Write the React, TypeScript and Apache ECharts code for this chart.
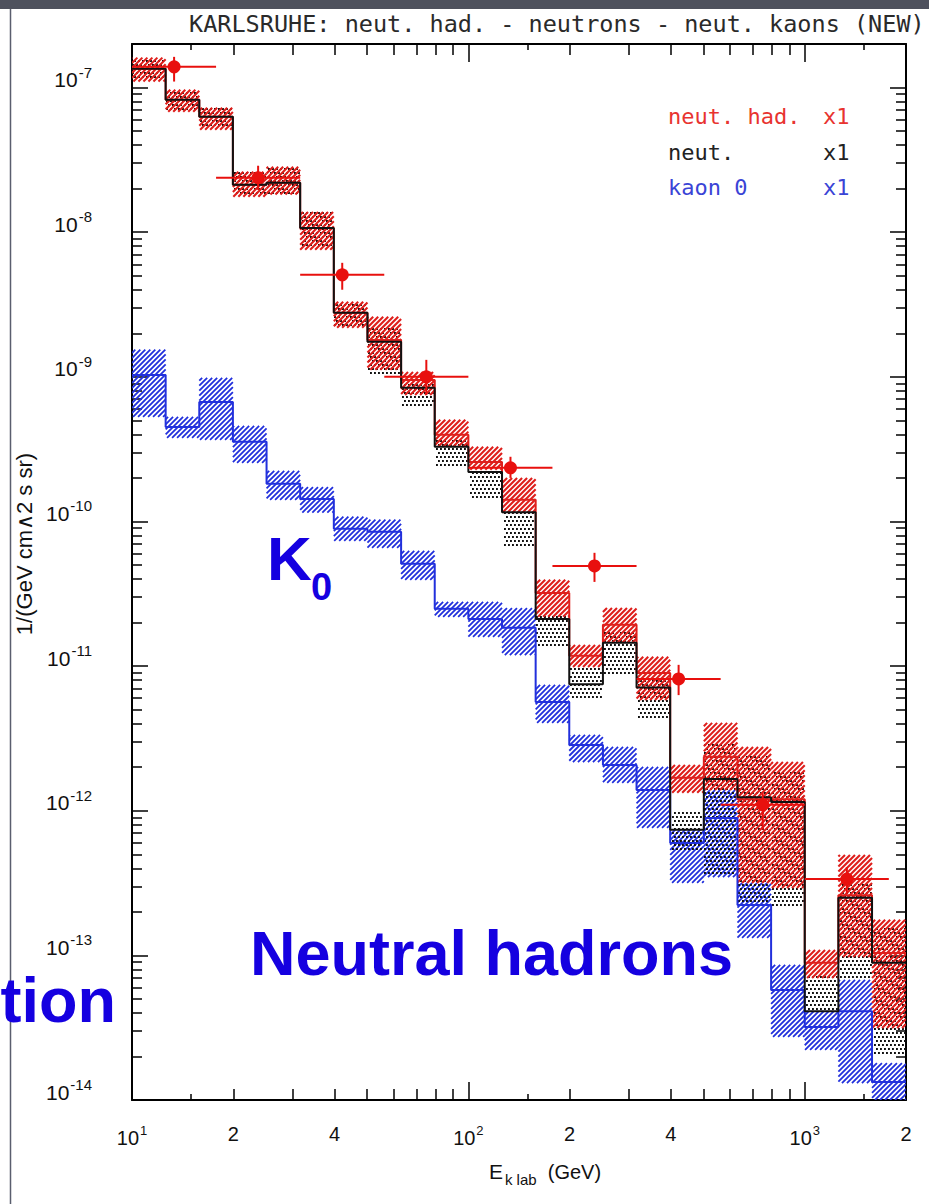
import React, { useEffect, useRef } from "react";
import * as echarts from "echarts";

// ---------- data ----------
const binEdges = [10, 12.59, 15.85, 19.95, 25.12, 31.62, 39.81, 50.12, 63.1, 79.43, 100, 125.9, 158.5, 199.5, 251.2, 316.2, 398.1, 501.2, 631, 794.3, 1000, 1259, 1585, 2000];

const neutHad = [1.35e-7, 8.24e-8, 6.28e-8, 2.13e-8, 2.2e-8, 1.07e-8, 2.77e-9, 1.8e-9, 9.5e-10, 3.97e-10, 2.58e-10, 1.41e-10, 3.2e-11, 1.18e-11, 1.93e-11, 8.97e-12, 1.69e-12, 2.36e-12, 1.2e-12, 1.2e-12, 8.9e-14, 2.6e-13, 1.04e-13];
const neutHadHi = [1.61e-7, 9.66e-8, 7.24e-8, 2.62e-8, 2.83e-8, 1.38e-8, 3.3e-9, 2.6e-9, 1.08e-9, 5.05e-10, 3.28e-10, 2.0e-10, 3.95e-11, 1.4e-11, 2.52e-11, 1.16e-11, 2.07e-12, 4.05e-12, 2.76e-12, 2.17e-12, 1.09e-13, 4.94e-13, 1.76e-13];
const neutHadLo = [1.1e-7, 6.8e-8, 5.1e-8, 1.76e-8, 1.82e-8, 7.55e-9, 2.18e-9, 1.12e-9, 7.5e-10, 3.28e-10, 2.28e-10, 1.15e-10, 2.19e-11, 9.86e-12, 1.45e-11, 5.83e-12, 1.33e-12, 1.39e-12, 3.17e-13, 2.92e-13, 6.98e-14, 9.75e-14, 3.15e-14];

const neut = [1.35e-7, 8.24e-8, 6.28e-8, 2.13e-8, 2.2e-8, 1.07e-8, 2.77e-9, 1.75e-9, 8.4e-10, 3.28e-10, 2.2e-10, 1.16e-10, 2.12e-11, 7.5e-12, 1.45e-11, 7.1e-12, 7.4e-13, 1.66e-12, 1.24e-12, 1.15e-12, 4.1e-14, 2.5e-13, 8.9e-14];
const neutHi = [1.61e-7, 9.66e-8, 7.24e-8, 2.62e-8, 2.83e-8, 1.38e-8, 3.3e-9, 2.29e-9, 9.2e-10, 3.66e-10, 2.28e-10, 1.2e-10, 2.26e-11, 9.86e-12, 1.78e-11, 8.04e-12, 9.8e-13, 2.94e-12, 2.43e-12, 1.91e-12, 7.3e-14, 3.17e-13, 1.62e-13];
const neutLo = [1.1e-7, 6.8e-8, 5.1e-8, 1.76e-8, 1.82e-8, 7.55e-9, 2.18e-9, 1.0e-9, 6.2e-10, 2.28e-10, 1.41e-10, 6.4e-11, 1.34e-11, 5.83e-12, 8.7e-12, 4.25e-12, 5.36e-13, 3.48e-13, 2.23e-13, 2.13e-13, 4.1e-14, 6.76e-14, 1.98e-14];

const kaon0 = [1.03e-9, 4.5e-10, 6.7e-10, 3.55e-10, 1.82e-10, 1.43e-10, 8.9e-11, 8.5e-11, 5.1e-11, 2.49e-11, 2.12e-11, 1.84e-11, 5.65e-12, 2.85e-12, 2.07e-12, 1.39e-12, 5.98e-13, 8.9e-13, 2.23e-13, 5.77e-14, 3.2e-14, 4.1e-14, 1.33e-14];
const kaon0Hi = [1.54e-9, 5.28e-10, 9.84e-10, 4.58e-10, 2.24e-10, 1.73e-10, 1.08e-10, 1.03e-10, 6.27e-11, 2.78e-11, 2.78e-11, 2.52e-11, 7.41e-12, 3.34e-12, 2.76e-12, 2.01e-12, 7.4e-13, 1.39e-12, 3.17e-13, 8.6e-14, 4.1e-14, 6.76e-14, 1.8e-14];
const kaon0Lo = [5.28e-10, 3.78e-10, 3.66e-10, 2.54e-10, 1.41e-10, 1.15e-10, 7.35e-11, 6.56e-11, 3.95e-11, 2.19e-11, 1.59e-11, 1.19e-11, 4.05e-12, 2.17e-12, 1.56e-12, 7.6e-13, 3.17e-13, 3.48e-13, 1.32e-13, 2.73e-14, 2.22e-14, 1.31e-14, 1e-14];

const pointE = [13.34, 23.71, 42.17, 74.99, 133.4, 237.1, 421.7, 749.9, 1334];
const pointELo = [10, 17.78, 31.62, 56.23, 100, 177.8, 316.2, 562.3, 1000];
const pointEHi = [17.78, 31.62, 56.23, 100, 177.8, 316.2, 562.3, 1000, 1778];
const pointFlux = [1.39e-7, 2.38e-8, 5.07e-9, 1.0e-9, 2.35e-10, 4.93e-11, 8.15e-12, 1.1e-12, 3.37e-13];
const pointFluxLo = [1.1e-7, 1.96e-8, 4.0e-9, 7.5e-10, 2.0e-10, 3.82e-11, 6.3e-12, 7.4e-13, 2.69e-13];
const pointFluxHi = [1.63e-7, 2.88e-8, 6.14e-9, 1.31e-9, 2.8e-10, 6.07e-11, 1.02e-11, 1.33e-12, 4.07e-13];

// ---------- ticks & labels ----------
const xMajorTicks = [10, 100, 1000];
const xMinorTicks = [20, 30, 40, 50, 60, 70, 80, 90, 200, 300, 400, 500, 600, 700, 800, 900];
const xTinyTicks = [15, 150, 1500];
const xLabelValues = [10, 20, 40, 100, 200, 400, 1000, 2000];
const xLabelBase = ["10", "2", "4", "10", "2", "4", "10", "2"];
const xLabelExp = ["1", "", "", "2", "", "", "3", ""];

const yLabelValues = [1e-14, 1e-13, 1e-12, 1e-11, 1e-10, 1e-9, 1e-8, 1e-7];
const yLabelExp = ["-14", "-13", "-12", "-11", "-10", "-9", "-8", "-7"];
const yDecadeExps = [-14, -13, -12, -11, -10, -9, -8, -7];
const yMinorMult = [2, 3, 4, 5, 6, 7, 8, 9];

const FONT = "'Liberation Sans', Arial, sans-serif";
const MONO = "'DejaVu Sans Mono', monospace";
const RED = "#de1f1c";
const BLUE = "#2230dc";
const TXTBLUE = "#1500e0";

// ---------- pattern geometry helpers (pixel space) ----------
function hatchPath(x0: number, y0: number, x1: number, y1: number, s: number) {
  let d = "";
  const cStart = Math.ceil((x0 + y0) / s) * s;
  for (let c = cStart; c <= x1 + y1; c += s) {
    const xa = Math.max(x0, c - y1);
    const xb = Math.min(x1, c - y0);
    if (xb <= xa) continue;
    d += `M${xa.toFixed(2)},${(c - xa).toFixed(2)}L${xb.toFixed(2)},${(c - xb).toFixed(2)}`;
  }
  return d || "M0,0";
}
function dotPath(x0: number, y0: number, x1: number, y1: number, s: number, r: number) {
  let d = "";
  for (let j = Math.ceil(y0 / s); j * s + r <= y1 + 0.01; j++) {
    const y = j * s;
    const off = (Math.abs(j) % 2) * (s / 2);
    for (let i = Math.ceil((x0 - off) / s); i * s + off + r <= x1 + 0.01; i++) {
      const x = i * s + off;
      d += `M${x.toFixed(2)},${y.toFixed(2)}h${r}v${r}h${-r}z`;
    }
  }
  return d || "M0,0";
}

function bandRenderer(kind: "red" | "dots" | "blue") {
  return (_params: any, api: any) => {
    const p1 = api.coord([api.value(0), api.value(3)]);
    const p2 = api.coord([api.value(1), api.value(2)]);
    const x0 = Math.min(p1[0], p2[0]);
    const x1 = Math.max(p1[0], p2[0]);
    const y0 = Math.min(p1[1], p2[1]);
    const y1 = Math.max(p1[1], p2[1]);
    if (kind === "dots") {
      return { type: "path", shape: { pathData: dotPath(x0, y0, x1, y1, 4, 1.9) }, style: { fill: "#101010", stroke: "none" } };
    }
    return {
      type: "path",
      shape: { pathData: hatchPath(x0, y0, x1, y1, 5) },
      style: { fill: "none", stroke: kind === "red" ? RED : BLUE, lineWidth: kind === "red" ? 2.1 : 1.8 },
    };
  };
}

const bandData = (lo: number[], hi: number[]) => lo.map((l, k) => [binEdges[k], binEdges[k + 1], l, hi[k]]);
const stepData = (vals: number[]) => [...vals.map((v, k) => [binEdges[k], v]), [binEdges[vals.length], vals[vals.length - 1]]];

export default function App() {
  const ref = useRef<HTMLDivElement>(null);
  useEffect(() => {
    const chart = echarts.init(ref.current!, null, { renderer: "svg" });
    const tickLine = { color: "#000", width: 1.5 };
    const xBase: any = {
      type: "log", logBase: 10, min: 10, max: 2000, splitLine: { show: false },
      axisLabel: { show: false }, axisLine: { show: false, onZero: false }, axisTick: { show: false }, silent: true,
    };
    const yBase: any = {
      type: "log", logBase: 10, min: 1e-14, max: 2e-7, splitLine: { show: false },
      axisLabel: { show: false }, axisLine: { show: false, onZero: false }, axisTick: { show: false }, silent: true,
    };
    const frameLine = { show: true, onZero: false, lineStyle: { color: "#000", width: 2 } };
    const yMinorTicks: number[] = [];
    yDecadeExps.slice(0, 7).forEach((e) => yMinorMult.forEach((m) => yMinorTicks.push(m * Math.pow(10, e))));

    const option: any = {
      animation: false,
      backgroundColor: "#fff",
      grid: { left: 132, top: 44, right: 23, bottom: 104, outerBoundsMode: "none" },
      title: {
        text: "KARLSRUHE: neut. had. - neutrons - neut. kaons (NEW)",
        left: 184, top: 7,
        textStyle: { fontFamily: MONO, fontSize: 23.5, fontWeight: "normal", color: "#2a2a2a" },
      },
      xAxis: [
        {
          ...xBase, position: "bottom", axisLine: frameLine,
          axisTick: { show: true, inside: true, length: 18, customValues: xMajorTicks, lineStyle: tickLine },
          axisLabel: {
            show: true, customValues: xLabelValues, margin: 24, showMinLabel: true, showMaxLabel: true,
            formatter: (v: number) => {
              const i = xLabelValues.findIndex((t) => Math.abs(Math.log10(t) - Math.log10(v)) < 1e-4);
              if (i < 0) return "";
              return xLabelExp[i] ? `{b|${xLabelBase[i]}}{sup|${xLabelExp[i]}}` : `{b|${xLabelBase[i]}}`;
            },
            rich: {
              b: { fontFamily: FONT, fontSize: 20, color: "#111" },
              sup: { fontFamily: FONT, fontSize: 13, color: "#111", padding: [0, 0, 14, 1] },
            },
          },
          name: "{e|E}{sub|k lab}{n|  (GeV)}",
          nameLocation: "middle", nameGap: 56,
          nameTextStyle: {
            padding: [0, 0, 0, 52],
            rich: {
              e: { fontFamily: FONT, fontSize: 21, color: "#111" },
              sub: { fontFamily: FONT, fontSize: 15, color: "#111", padding: [16, 0, 0, 2] },
              n: { fontFamily: FONT, fontSize: 20, color: "#111" },
            },
          },
        },
        { ...xBase, position: "bottom", axisTick: { show: true, inside: true, length: 11, customValues: xMinorTicks, lineStyle: tickLine } },
        { ...xBase, position: "bottom", axisTick: { show: true, inside: true, length: 6, customValues: xTinyTicks, lineStyle: tickLine } },
        { ...xBase, position: "top", axisLine: frameLine, axisTick: { show: true, inside: true, length: 18, customValues: xMajorTicks, lineStyle: tickLine } },
        { ...xBase, position: "top", axisTick: { show: true, inside: true, length: 11, customValues: xMinorTicks, lineStyle: tickLine } },
        { ...xBase, position: "top", axisTick: { show: true, inside: true, length: 6, customValues: xTinyTicks, lineStyle: tickLine } },
      ],
      yAxis: [
        {
          ...yBase, position: "left", axisLine: frameLine,
          axisTick: { show: true, inside: true, length: 16, customValues: yLabelValues, lineStyle: tickLine },
          axisLabel: {
            show: true, customValues: yLabelValues, margin: 40, showMinLabel: true, showMaxLabel: true,
            padding: [0, 0, 16, 0],
            formatter: (v: number) => {
              const i = yLabelValues.findIndex((t) => Math.abs(Math.log10(t) - Math.log10(v)) < 1e-4);
              return i < 0 ? "" : `{b|10}{sup|${yLabelExp[i]}}`;
            },
            rich: {
              b: { fontFamily: FONT, fontSize: 21, color: "#111" },
              sup: { fontFamily: FONT, fontSize: 15, color: "#111", padding: [0, 0, 15, 1] },
            },
          },
          name: "1/(GeV cm\u22272 s sr)",
          nameLocation: "middle", nameGap: 97, nameRotate: 90,
          nameTextStyle: { fontFamily: FONT, fontSize: 22, color: "#111", padding: [0, 0, 0, 56] },
        },
        { ...yBase, position: "left", axisTick: { show: true, inside: true, length: 10, customValues: yMinorTicks, lineStyle: tickLine } },
        { ...yBase, position: "right", axisLine: frameLine, axisTick: { show: true, inside: true, length: 16, customValues: yLabelValues, lineStyle: tickLine } },
        { ...yBase, position: "right", axisTick: { show: true, inside: true, length: 10, customValues: yMinorTicks, lineStyle: tickLine } },
      ],
      series: [
        { type: "custom", name: "kaon 0 band", z: 2, clip: true, renderItem: bandRenderer("blue"), encode: { x: [0, 1], y: [2, 3] }, data: bandData(kaon0Lo, kaon0Hi), silent: true },
        { type: "custom", name: "neut. band", z: 3, clip: true, renderItem: bandRenderer("dots"), encode: { x: [0, 1], y: [2, 3] }, data: bandData(neutLo, neutHi), silent: true },
        { type: "custom", name: "neut. had. band", z: 4, clip: true, renderItem: bandRenderer("red"), encode: { x: [0, 1], y: [2, 3] }, data: bandData(neutHadLo, neutHadHi), silent: true },
        { type: "line", name: "kaon 0", z: 5, step: "end", symbol: "none", data: stepData(kaon0), lineStyle: { color: BLUE, width: 2 }, itemStyle: { color: BLUE }, silent: true },
        { type: "line", name: "neut. had.", z: 6, step: "end", symbol: "none", data: stepData(neutHad), lineStyle: { color: RED, width: 2 }, itemStyle: { color: RED }, silent: true },
        { type: "line", name: "neut.", z: 7, step: "end", symbol: "none", data: stepData(neut), lineStyle: { color: "#111", width: 2 }, itemStyle: { color: "#111" }, silent: true },
        {
          type: "custom", name: "KASCADE data", z: 8, clip: false, silent: true,
          encode: { x: [0, 2, 3], y: [1, 4, 5] },
          data: pointE.map((e, i) => [e, pointFlux[i], pointELo[i], pointEHi[i], pointFluxLo[i], pointFluxHi[i]]),
          renderItem: (_p: any, api: any) => {
            const c = api.coord([api.value(0), api.value(1)]);
            const l = api.coord([api.value(2), api.value(1)]);
            const r = api.coord([api.value(3), api.value(1)]);
            const b = api.coord([api.value(0), api.value(4)]);
            const t = api.coord([api.value(0), api.value(5)]);
            const st = { stroke: "#e8100e", lineWidth: 2 };
            return {
              type: "group",
              children: [
                { type: "line", shape: { x1: l[0], y1: l[1], x2: r[0], y2: r[1] }, style: st },
                { type: "line", shape: { x1: t[0], y1: t[1], x2: b[0], y2: b[1] }, style: st },
                { type: "circle", shape: { cx: c[0], cy: c[1], r: 6.5 }, style: { fill: "#e8100e", stroke: "none" } },
              ],
            };
          },
        },
      ],
      graphic: [
        { type: "rect", z: 100, shape: { x: 0, y: 0, width: 929, height: 9 }, style: { fill: "#4e515d" } },
        { type: "line", z: 100, shape: { x1: 10.5, y1: 9, x2: 10.5, y2: 1204 }, style: { stroke: "#5a5e6e", lineWidth: 1.5 } },
        { type: "text", z: 100, style: { x: 668, y: 116, text: "neut. had.", font: `22px ${MONO}`, fill: "#e8332f", verticalAlign: "middle" } },
        { type: "text", z: 100, style: { x: 823, y: 116, text: "x1", font: `22px ${MONO}`, fill: "#e8332f", verticalAlign: "middle" } },
        { type: "text", z: 100, style: { x: 668, y: 152, text: "neut.", font: `22px ${MONO}`, fill: "#222", verticalAlign: "middle" } },
        { type: "text", z: 100, style: { x: 823, y: 152, text: "x1", font: `22px ${MONO}`, fill: "#222", verticalAlign: "middle" } },
        { type: "text", z: 100, style: { x: 668, y: 187, text: "kaon 0", font: `22px ${MONO}`, fill: "#3a44d6", verticalAlign: "middle" } },
        { type: "text", z: 100, style: { x: 823, y: 187, text: "x1", font: `22px ${MONO}`, fill: "#3a44d6", verticalAlign: "middle" } },
        { type: "text", z: 100, style: { x: 267, y: 558, text: "K", font: `bold 62px ${FONT}`, fill: TXTBLUE, verticalAlign: "middle" } },
        { type: "text", z: 100, style: { x: 311, y: 587, text: "0", font: `bold 38px ${FONT}`, fill: TXTBLUE, verticalAlign: "middle" } },
        { type: "text", z: 100, style: { x: 250, y: 953, text: "Neutral hadrons", font: `bold 63px ${FONT}`, fill: TXTBLUE, verticalAlign: "middle" } },
        { type: "text", z: 100, style: { x: 116, y: 1000, text: "tion", font: `bold 63px ${FONT}`, fill: TXTBLUE, align: "right", verticalAlign: "middle" } },
      ],
    };
    chart.setOption(option);
    return () => chart.dispose();
  }, []);
  return <div ref={ref} style={{ position: "absolute", left: 0, top: 0, width: 929, height: 1204, background: "#fff" }} />;
}
